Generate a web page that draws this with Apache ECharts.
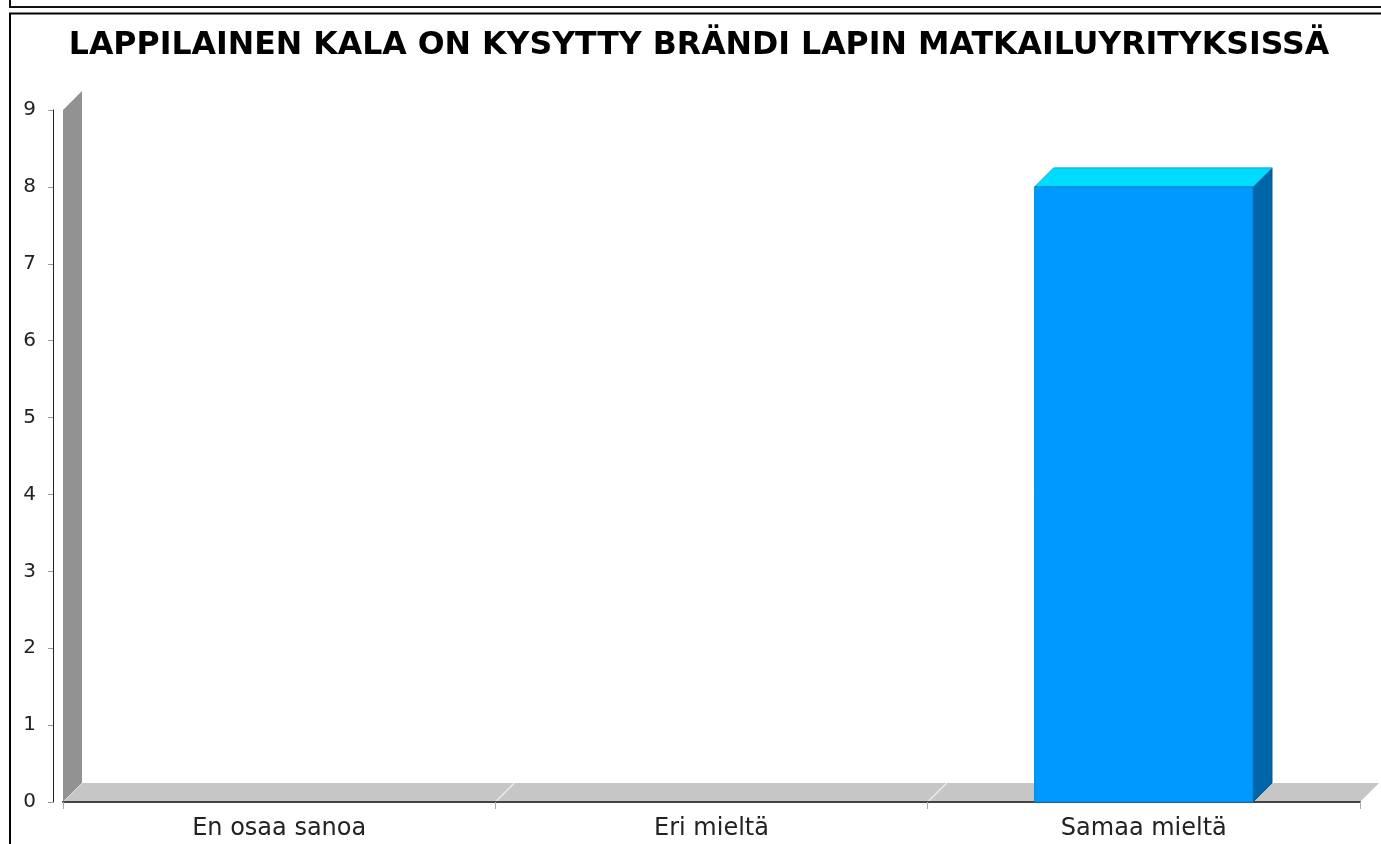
<!DOCTYPE html>
<html>
<head>
<meta charset="utf-8">
<style>
html,body{margin:0;padding:0;background:#fff;}
#chart{width:1381px;height:844px;}
</style>
<script src="https://cdn.jsdelivr.net/npm/echarts@6/dist/echarts.min.js"></script>
</head>
<body>
<div id="chart"></div>
<script>
const titleText = 'LAPPILAINEN KALA ON KYSYTTY BRÄNDI LAPIN MATKAILUYRITYKSISSÄ';
const categories = ['En osaa sanoa', 'Eri mieltä', 'Samaa mieltä'];
const values = [0, 0, 8];
const yMin = 0;
const yMax = 9;
const yInterval = 1;

const DEPTH = 19;

const chart = echarts.init(document.getElementById('chart'), null, {renderer: 'canvas'});

function renderWalls(params, api) {
  const cs = params.coordSys;
  const x0 = cs.x, y0 = cs.y, w = cs.width, h = cs.height;
  const bandW = api.size([1, 0])[0];
  const children = [
    { type: 'polygon', shape: { points: [[x0, y0], [x0 + DEPTH, y0 - DEPTH], [x0 + DEPTH, y0 + h - DEPTH], [x0, y0 + h]] },
      style: { fill: '#929292' } },
    { type: 'polygon', shape: { points: [[x0, y0 + h], [x0 + DEPTH, y0 + h - DEPTH], [x0 + w + DEPTH, y0 + h - DEPTH], [x0 + w, y0 + h]] },
      style: { fill: '#c6c6c6' } },
    { type: 'line', shape: { x1: x0, y1: y0 + h, x2: x0 + DEPTH, y2: y0 + h - DEPTH },
      style: { stroke: '#dcdcdc', lineWidth: 1 } }
  ];
  for (let i = 1; i < categories.length; i++) {
    const xb = x0 + i * bandW;
    children.push({ type: 'line', shape: { x1: xb, y1: y0 + h, x2: xb + DEPTH, y2: y0 + h - DEPTH },
      style: { stroke: '#eeeeee', lineWidth: 1.2 } });
  }
  return { type: 'group', children };
}

function renderBar3D(params, api) {
  const ci = api.value(0);
  const v = api.value(1);
  if (!v) return null;
  const top = api.coord([ci, v]);
  const base = api.coord([ci, 0]);
  const bandW = api.size([1, 0])[0];
  const bw = bandW * 0.505;
  const xl = top[0] - bw / 2, xr = top[0] + bw / 2;
  const yt = top[1], yb = base[1];
  return {
    type: 'group',
    children: [
      { type: 'polygon', shape: { points: [[xr, yt], [xr + DEPTH, yt - DEPTH], [xr + DEPTH, yb - DEPTH], [xr, yb]] },
        style: { fill: '#0066aa', stroke: '#00578f', lineWidth: 1 } },
      { type: 'polygon', shape: { points: [[xl, yt], [xl + DEPTH, yt - DEPTH], [xr + DEPTH, yt - DEPTH], [xr, yt]] },
        style: { fill: '#00dcff', stroke: '#00a8cc', lineWidth: 1 } },
      { type: 'rect', shape: { x: xl, y: yt, width: bw, height: yb - yt },
        style: { fill: '#0099ff', stroke: '#0080d4', lineWidth: 1 } }
    ]
  };
}

const option = {
  backgroundColor: '#ffffff',
  animation: false,
  title: {
    text: titleText,
    left: 694,
    top: 25,
    textAlign: 'center',
    textStyle: { fontFamily: 'DejaVu Sans', fontWeight: 'bold', fontSize: 31.6, color: '#000' }
  },
  graphic: [
    { type: 'polyline', shape: { points: [[10, 0], [10, 7], [1381, 7]] }, style: { stroke: '#111', lineWidth: 2, fill: null }, silent: true },
    { type: 'polyline', shape: { points: [[10, 844], [10, 13.5], [1381, 13.5]] }, style: { stroke: '#000', lineWidth: 2, fill: null }, silent: true }
  ],
  grid: { left: 63, right: 21, top: 110, bottom: 42, containLabel: false },
  xAxis: {
    type: 'category',
    data: categories,
    boundaryGap: true,
    axisLine: { show: true, lineStyle: { color: '#444', width: 2 } },
    axisTick: { show: true, length: 7, lineStyle: { color: '#aaa' } },
    axisLabel: { margin: 15, fontFamily: 'DejaVu Sans', fontSize: 24, color: '#222' },
    splitLine: { show: false },
    z: 3
  },
  yAxis: {
    type: 'value',
    min: yMin,
    max: yMax,
    interval: yInterval,
    offset: 10,
    axisLine: { show: true, lineStyle: { color: '#222', width: 1 } },
    axisTick: { show: true, length: 5, lineStyle: { color: '#999' } },
    axisLabel: { margin: 17, fontFamily: 'DejaVu Sans', fontSize: 20, color: '#222' },
    splitLine: { show: false }
  },
  series: [
    {
      type: 'custom',
      z: 1,
      renderItem: renderWalls,
      data: [[0, 0]],
      silent: true
    },
    {
      type: 'custom',
      z: 5,
      renderItem: renderBar3D,
      data: values.map((v, i) => [i, v]),
      encode: { x: 0, y: 1 }
    }
  ]
};
chart.setOption(option);
</script>
</body>
</html>
